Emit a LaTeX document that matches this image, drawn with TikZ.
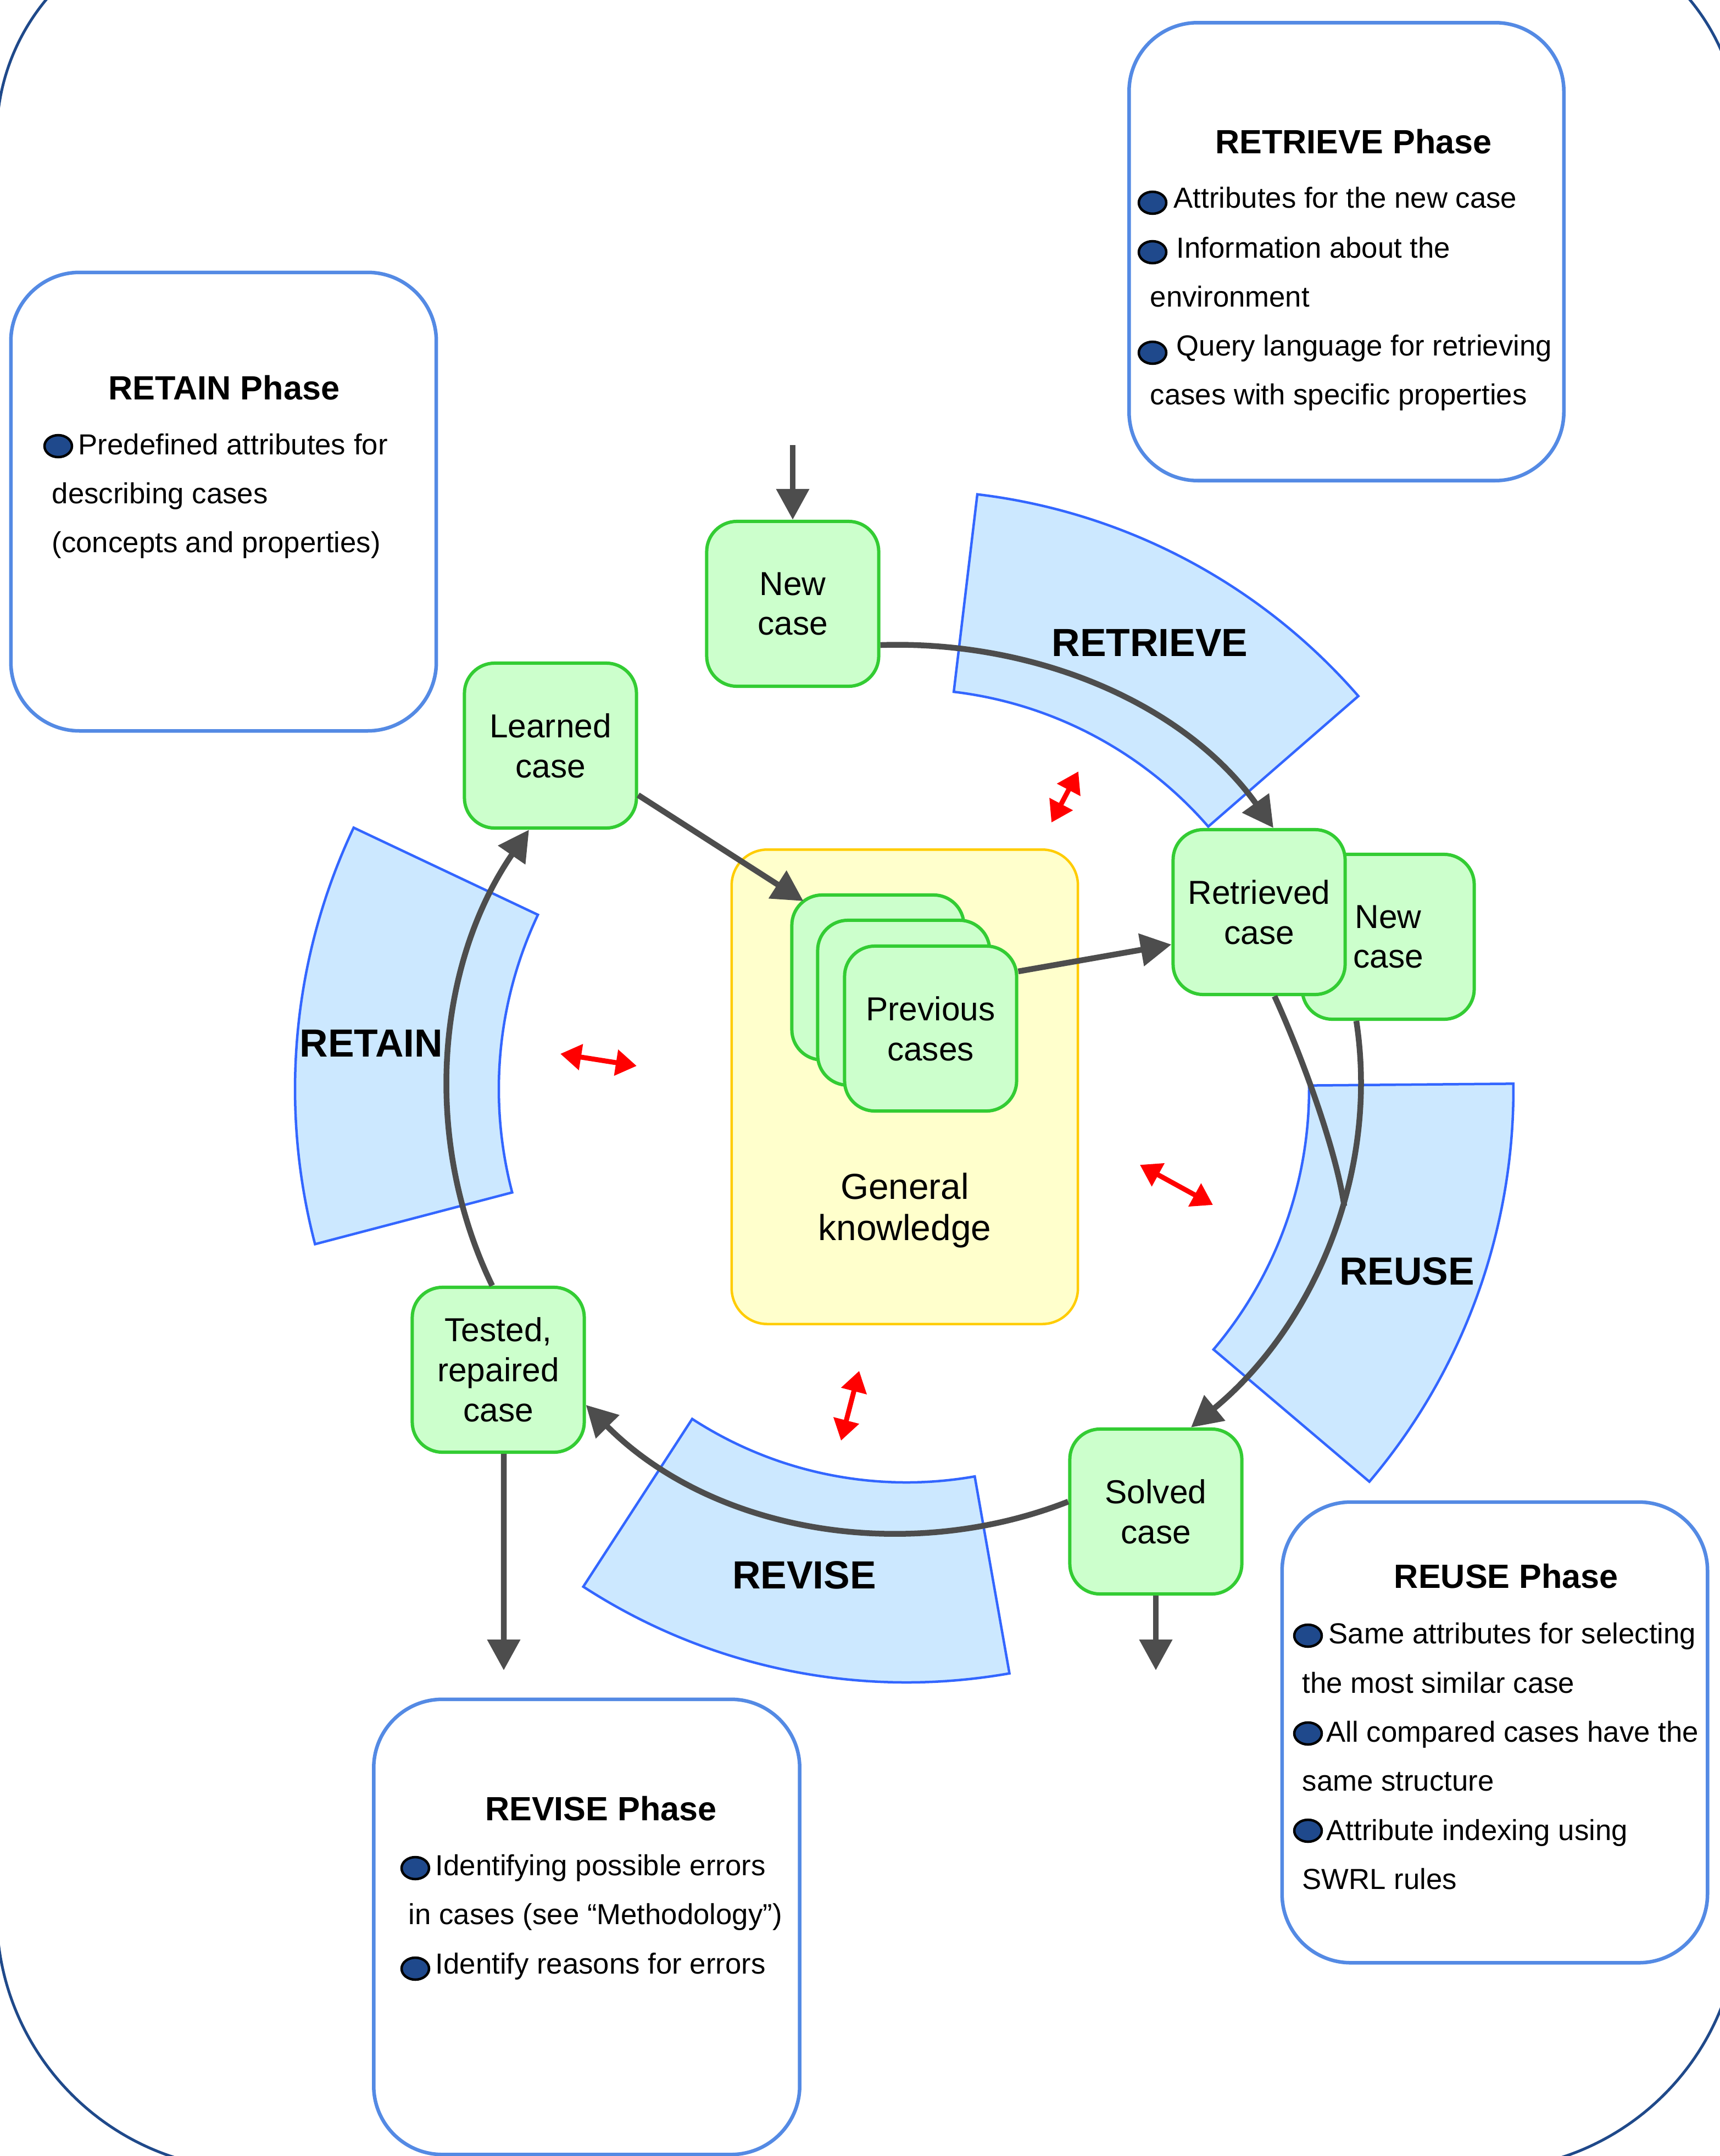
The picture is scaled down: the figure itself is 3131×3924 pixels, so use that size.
\documentclass[tikz,border=0pt]{standalone}
\usepackage{fontspec}
\setmainfont{Liberation Sans}
\usetikzlibrary{arrows.meta}
\definecolor{navyline}{RGB}{31,73,138}
\definecolor{boxblue}{RGB}{84,138,228}
\definecolor{secblue}{RGB}{51,102,255}
\definecolor{secfill}{RGB}{204,232,255}
\definecolor{casefill}{RGB}{204,255,204}
\definecolor{caseline}{RGB}{51,204,51}
\definecolor{gkfill}{RGB}{255,255,204}
\definecolor{gkline}{RGB}{255,204,0}
\definecolor{flowgray}{RGB}{77,77,77}
\definecolor{dotblue}{RGB}{31,73,140}

\begin{document}
\begin{tikzpicture}[x=0.01cm,y=-0.01cm,
  phasebox/.style={draw=boxblue,line width=0.065cm,fill=white,rounded corners=1.25cm},
  phasehead/.style={font=\bfseries\fontsize{17.4}{21}\selectfont,anchor=base,inner sep=0},
  phaseitem/.style={font=\fontsize{15}{18}\selectfont,anchor=base west,inner sep=0},
  phasedot/.style={fill=dotblue,draw=black,line width=0.045cm},
  sectorfill/.style={draw=secblue,fill=secfill,line width=0.045cm},
  seclab/.style={font=\bfseries\fontsize{20.3}{24}\selectfont,inner sep=0},
  casebox/.style={draw=caseline,fill=casefill,line width=0.06cm,rounded corners=0.55cm,
    minimum width=3.13cm,minimum height=3cm,align=center,inner sep=0,
    font=\fontsize{17.2}{20.7}\selectfont},
  flowline/.style={draw=flowgray,line width=0.105cm},
  flowarrow/.style={flowline,-{Triangle[length=0.56cm,width=0.58cm]}},
  linkarrow/.style={red,line width=0.09cm,
    {Triangle[length=0.38cm,width=0.46cm]}-{Triangle[length=0.38cm,width=0.46cm]}}]
  \useasboundingbox (0,0) rectangle (3131,3924);
  \clip (0,0) rectangle (3131,3924);
  \draw[navyline,line width=0.05cm] (-6,249) arc[start angle=180,end angle=270,radius=391]
       -- (2775,-142) arc[start angle=270,end angle=360,radius=391]
       -- (3166,3482) arc[start angle=0,end angle=90,radius=467]
       -- (461,3949) arc[start angle=90,end angle=180,radius=467] -- cycle;

  \node[phasebox,minimum width=7.91cm,minimum height=8.33cm] (retrievebox) at (2451,458) {};
  \node[phasehead] (retrievehead) at (2464,280) {RETRIEVE Phase};
  \node[phaseitem] (retr1) at (2136,378) {Attributes for the new case};
  \node[phaseitem] (retr2) at (2141,469) {Information about the};
  \node[phaseitem] (retr3) at (2093,558) {environment};
  \node[phaseitem] (retr4) at (2141,647) {Query language for retrieving};
  \node[phaseitem] (retr5) at (2093,736) {cases with specific properties};

  \node[phasebox,minimum width=7.74cm,minimum height=8.34cm] (retainbox) at (407,913) {};
  \node[phasehead] (retainhead) at (408,727) {RETAIN Phase};
  \node[phaseitem] (retain1) at (142,827) {Predefined attributes for};
  \node[phaseitem] (retain2) at (94,916) {describing cases};
  \node[phaseitem] (retain3) at (94,1005) {(concepts and properties)};

  \node[phasebox,minimum width=7.74cm,minimum height=8.38cm] (reusebox) at (2721,3153) {};
  \node[phasehead] (reusehead) at (2742,2890) {REUSE Phase};
  \node[phaseitem] (reuse1) at (2418,2991) {Same attributes for selecting};
  \node[phaseitem] (reuse2) at (2370,3081) {the most similar case};
  \node[phaseitem] (reuse3) at (2414,3170) {All compared cases have the};
  \node[phaseitem] (reuse4) at (2370,3259) {same structure};
  \node[phaseitem] (reuse5) at (2414,3349) {Attribute indexing using};
  \node[phaseitem] (reuse6) at (2370,3438) {SWRL rules};

  \node[phasebox,minimum width=7.75cm,minimum height=8.28cm] (revisebox) at (1068,3507) {};
  \node[phasehead] (revisehead) at (1094,3313) {REVISE Phase};
  \node[phaseitem] (revise1) at (792,3413) {Identifying possible errors};
  \node[phaseitem] (revise2) at (743,3502) {in cases (see “Methodology”)};
  \node[phaseitem] (revise3) at (792,3592) {Identify reasons for errors};

  \foreach \p in {(2098,369),(2098,459),(2098,642),(106,812),(2381,2977),(2381,3155),
                  (2381,3332),(756,3400),(756,3583)}
    \draw[phasedot] \p ellipse[x radius=25,y radius=20];

  \coordinate (C) at (1650,1982);
  \foreach \a/\b/\ro/\ri in {-83.2/-41/1090/728,-0.5/40.3/1105/733,80/123/1080/716,165.3/205.3/1113/742}
    \draw[sectorfill] ([shift={(\a:\ro)}]C) arc[start angle=\a,end angle=\b,radius=\ro]
      -- ([shift={(\b:\ri)}]C) arc[start angle=\b,end angle=\a,radius=\ri] -- cycle;
  \node[seclab] (retrievelab) at (2093,1170) {RETRIEVE};
  \node[seclab] (reuselab) at (2561,2314) {REUSE};
  \node[seclab] (reviselab) at (1464,2867) {REVISE};
  \node[seclab] (retainlab) at (676,1899) {RETAIN};

  \node[draw=gkline,fill=gkfill,line width=0.045cm,rounded corners=0.65cm,
        minimum width=6.3cm,minimum height=8.63cm] (gk) at (1647,1978) {};
  \node[font=\fontsize{18.7}{21.3}\selectfont,align=center] (gktext) at (1647,2203) {General\\knowledge};

  \node[casebox] (newc) at (1443,1099) {New\\case};
  \node[casebox] (newr) at (2527,1705) {New\\case};
  \node[casebox] (retr) at (2292,1660) {Retrieved\\case};
  \node[casebox] (learned) at (1002,1357) {Learned\\case};
  \node[casebox] (prevA) at (1598,1779) {};
  \node[casebox] (prevB) at (1645,1825) {};
  \node[casebox] (prevC) at (1694,1872) {Previous\\cases};
  \node[casebox] (tested) at (907,2493) {Tested,\\repaired\\case};
  \node[casebox] (solved) at (2104,2751) {Solved\\case};

  \coordinate (in1) at (1443,810);
  \coordinate (out1) at (917,3040);
  \coordinate (out2) at (2104,3040);
  \coordinate (join) at (2447,2195);
  \draw[flowarrow] (in1) -- (newc.north);
  \draw[flowarrow] ([yshift=-0.75cm]newc.east) .. controls (1881,1165) and (2154,1278) .. ([xshift=0.26cm]retr.north);
  \draw[flowarrow] ([yshift=1.04cm]prevC.east) -- ([yshift=-0.59cm]retr.west);
  \draw[flowarrow] ([yshift=-0.9cm]learned.east) -- ([xshift=0.24cm,yshift=-0.14cm]prevA.north west);
  \draw[flowline] ([xshift=0.28cm]retr.south) .. controls (2360,1900) and (2430,2080) .. (join);
  \draw[flowarrow] ([xshift=-0.58cm]newr.south) .. controls (2512,2140) and (2387,2418) .. ([xshift=0.64cm]solved.north);
  \draw[flowarrow] ([yshift=0.18cm]solved.west) .. controls (1645,2850) and (1294,2786) .. ([yshift=-0.64cm]tested.east);
  \draw[flowarrow] ([xshift=-0.11cm]tested.north) .. controls (767,2074) and (794,1756) .. ([xshift=-0.39cm]learned.south);
  \draw[flowarrow] ([xshift=0.1cm]tested.south) -- (out1);
  \draw[flowarrow] (solved.south) -- (out2);

  \coordinate (r1a) at (1914,1497); \coordinate (r1b) at (1963,1404);
  \coordinate (r2a) at (1159,1940); \coordinate (r2b) at (1020,1918);
  \coordinate (r3a) at (2075,2120); \coordinate (r3b) at (2208,2193);
  \coordinate (r4a) at (1564,2495); \coordinate (r4b) at (1531,2622);
  \draw[linkarrow] (r1a) -- (r1b);
  \draw[linkarrow] (r2a) -- (r2b);
  \draw[linkarrow] (r3a) -- (r3b);
  \draw[linkarrow] (r4a) -- (r4b);
\end{tikzpicture}
\end{document}
